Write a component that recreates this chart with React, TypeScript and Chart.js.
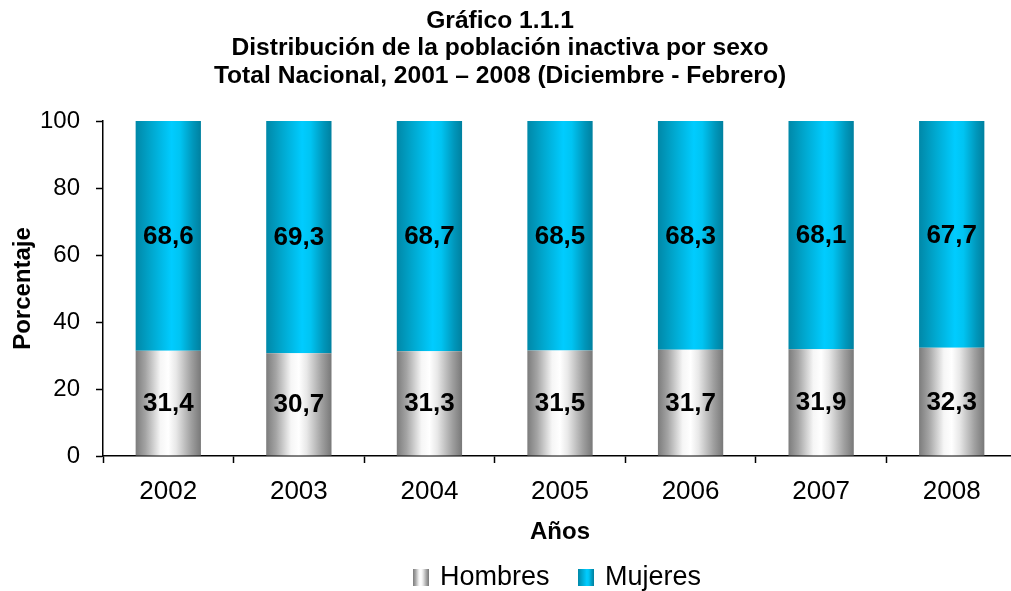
import React, { useEffect, useRef } from "react";
import { Chart, registerables } from "chart.js";

Chart.register(...registerables);

const years = ["2002", "2003", "2004", "2005", "2006", "2007", "2008"];
const hombres = [31.4, 30.7, 31.3, 31.5, 31.7, 31.9, 32.3];
const mujeres = [68.6, 69.3, 68.7, 68.5, 68.3, 68.1, 67.7];
const yTicks = [0, 20, 40, 60, 80, 100];
const titleLines = [
  "Gráfico 1.1.1",
  "Distribución de la población inactiva por sexo",
  "Total Nacional, 2001 – 2008 (Diciembre - Febrero)",
];
const seriesNames = ["Hombres", "Mujeres"];

const FONT = "Arial, 'Liberation Sans', sans-serif";
const W = 1030;
const H = 591;

function grayGrad(ctx: CanvasRenderingContext2D, x0: number, x1: number) {
  const g = ctx.createLinearGradient(x0, 0, x1, 0);
  g.addColorStop(0, "#7c7c7c");
  g.addColorStop(0.15, "#a4a4a4");
  g.addColorStop(0.38, "#f6f6f6");
  g.addColorStop(0.5, "#ffffff");
  g.addColorStop(0.62, "#e8e8e8");
  g.addColorStop(0.85, "#a0a0a0");
  g.addColorStop(1, "#787878");
  return g;
}
function blueGrad(ctx: CanvasRenderingContext2D, x0: number, x1: number) {
  const g = ctx.createLinearGradient(x0, 0, x1, 0);
  g.addColorStop(0, "#0088a8");
  g.addColorStop(0.25, "#00a8cf");
  g.addColorStop(0.55, "#00ccff");
  g.addColorStop(0.68, "#00c4f2");
  g.addColorStop(0.88, "#0096ba");
  g.addColorStop(1, "#00809f");
  return g;
}

function barFill(kind: number) {
  return (c: any) => {
    const fallback = kind === 0 ? "#bbbbbb" : "#00bbee";
    const chart = c.chart;
    const x = chart.scales && chart.scales.x;
    if (!x || c.type !== "data" || !chart.ctx) return fallback;
    const cx = x.getPixelForValue(c.dataIndex);
    const w = (x.width / years.length) * 0.5;
    if (!isFinite(cx) || !isFinite(w) || w <= 0) return fallback;
    return kind === 0
      ? grayGrad(chart.ctx, cx - w / 2, cx + w / 2)
      : blueGrad(chart.ctx, cx - w / 2, cx + w / 2);
  };
}

const extrasPlugin = {
  id: "extras",
  afterDatasetsDraw(chart: any) {
    const ctx = chart.ctx;
    ctx.save();
    ctx.fillStyle = "#000";
    ctx.font = `bold 26px ${FONT}`;
    ctx.textAlign = "center";
    ctx.textBaseline = "middle";
    chart.data.datasets.forEach((ds: any, di: number) => {
      const meta = chart.getDatasetMeta(di);
      meta.data.forEach((el: any, i: number) => {
        const v = ds.data[i] as number;
        const txt = v.toFixed(1).replace(".", ",");
        ctx.fillText(txt, el.x, (el.y + el.base) / 2 + 1);
      });
    });
    ctx.restore();
  },
  afterDraw(chart: any) {
    const ctx = chart.ctx;
    ctx.save();
    ctx.fillStyle = "#000";
    ctx.font = `bold 24.6px ${FONT}`;
    ctx.textAlign = "center";
    ctx.textBaseline = "middle";
    titleLines.forEach((t, i) => ctx.fillText(t, 500, 21 + i * 27.5));
    ctx.font = `27px ${FONT}`;
    ctx.textAlign = "left";
    const ly = 577;
    const items = [
      { x: 413, name: seriesNames[0], kind: 0 },
      { x: 578, name: seriesNames[1], kind: 1 },
    ];
    items.forEach((it) => {
      const s = 16;
      ctx.fillStyle = it.kind === 0 ? grayGrad(ctx, it.x, it.x + s) : blueGrad(ctx, it.x, it.x + s);
      ctx.fillRect(it.x, ly - 8, s, 17);
      ctx.fillStyle = "#000";
      ctx.fillText(it.name, it.x + 27, ly + 1);
    });
    ctx.restore();
  },
};

export default function App() {
  const ref = useRef<HTMLCanvasElement | null>(null);
  useEffect(() => {
    if (!ref.current) return;
    const chart = new Chart(ref.current, {
      type: "bar",
      data: {
        labels: years,
        datasets: [
          {
            label: seriesNames[0],
            data: hombres,
            backgroundColor: barFill(0),
            borderWidth: 0,
            barPercentage: 1,
            categoryPercentage: 0.5,
          },
          {
            label: seriesNames[1],
            data: mujeres,
            backgroundColor: barFill(1),
            borderWidth: 0,
            barPercentage: 1,
            categoryPercentage: 0.5,
          },
        ],
      },
      options: {
        responsive: false,
        animation: false,
        events: [],
        layout: { padding: { left: 0, top: 121, right: 13, bottom: 35 } },
        plugins: {
          legend: { display: false },
          title: { display: false },
          tooltip: { enabled: false },
        },
        scales: {
          x: {
            stacked: true,
            afterFit: (s: any) => {
              s.height = 100;
            },
            grid: {
              offset: true,
              drawOnChartArea: false,
              drawTicks: true,
              tickLength: 7,
              tickColor: "#000",
              tickWidth: 1.5,
            },
            border: { color: "#000", width: 1.5 },
            ticks: { color: "#000", font: { family: FONT, size: 26 }, padding: 13 },
            title: {
              display: true,
              text: "Años",
              color: "#000",
              font: { family: FONT, size: 24, weight: "bold" },
              padding: { top: 0, bottom: 9 },
            },
          },
          y: {
            stacked: true,
            min: 0,
            max: 100,
            afterFit: (s: any) => {
              s.width = 103;
            },
            afterBuildTicks: (s: any) => {
              s.ticks = yTicks.map((v) => ({ value: v }));
            },
            grid: {
              drawOnChartArea: false,
              drawTicks: true,
              tickLength: 7,
              tickColor: "#000",
              tickWidth: 1.5,
            },
            border: { color: "#000", width: 1.5 },
            ticks: { color: "#000", font: { family: FONT, size: 24 }, padding: 16 },
            title: {
              display: true,
              text: "Porcentaje",
              color: "#000",
              font: { family: FONT, size: 24, weight: "bold" },
              padding: { top: 9, bottom: 0 },
            },
          },
        },
      },
      plugins: [extrasPlugin],
    });
    return () => chart.destroy();
  }, []);
  return (
    <div
      style={{
        position: "fixed",
        left: 0,
        top: 0,
        width: 1011,
        height: 591,
        overflow: "hidden",
        background: "#fff",
      }}
    >
      <canvas ref={ref} width={W} height={H} style={{ width: W, height: H, display: "block" }} />
    </div>
  );
}
